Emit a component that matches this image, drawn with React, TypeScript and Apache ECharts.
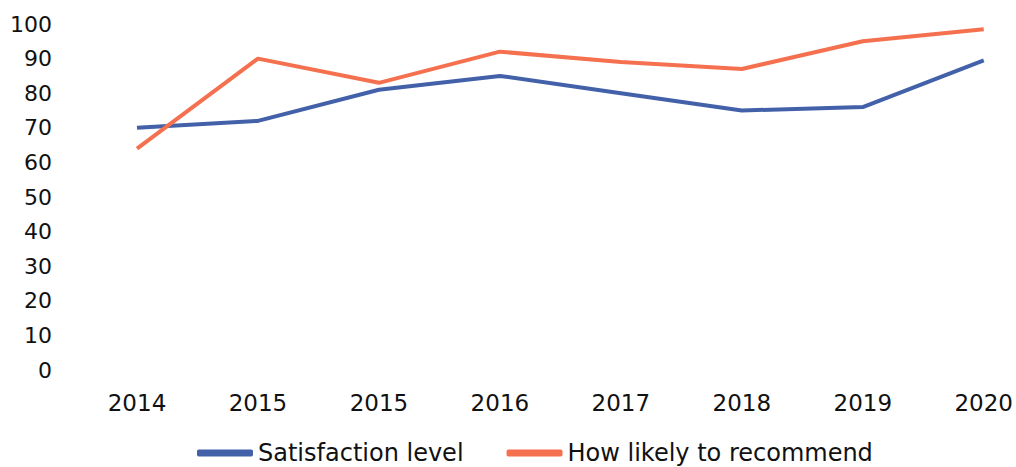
import React, { useEffect, useRef } from "react";
import * as echarts from "echarts";

const categories = ["2014", "2015", "2015", "2016", "2017", "2018", "2019", "2020"];
const satisfaction = [70, 72, 81, 85, 80, 75, 76, 89.5];
const recommend = [64, 90, 83, 92, 89, 87, 95, 98.5];
const seriesNames = ["Satisfaction level", "How likely to recommend"];
const colors = ["#4261a9", "#f5704f"];

export default function App() {
  const ref = useRef<HTMLDivElement>(null);
  useEffect(() => {
    const chart = echarts.init(ref.current!, null, { renderer: "svg" });
    const font = "'DejaVu Sans', Verdana, sans-serif";
    chart.setOption({
      animation: false,
      backgroundColor: "#ffffff",
      color: colors,
      grid: { left: 137, right: 32, top: 24, bottom: 97, containLabel: false },
      legend: {
        bottom: -3,
        left: 192,
        icon: "roundRect",
        itemWidth: 56,
        itemHeight: 7,
        itemGap: 43,
        textStyle: { fontFamily: font, fontSize: 24, color: "#111", padding: [0, 0, 0, 0] },
        data: seriesNames,
      },
      xAxis: {
        type: "category",
        data: categories,
        boundaryGap: false,
        axisLine: { show: false },
        axisTick: { show: false },
        axisLabel: { fontFamily: font, fontSize: 23, color: "#111", margin: 21 },
      },
      yAxis: {
        type: "value",
        min: 0,
        max: 100,
        interval: 10,
        splitLine: { show: false },
        axisLine: { show: false },
        axisTick: { show: false },
        axisLabel: { fontFamily: font, fontSize: 22, color: "#111", margin: 85 },
      },
      series: [
        {
          name: seriesNames[0],
          type: "line",
          data: satisfaction,
          symbol: "none",
          lineStyle: { width: 4, color: colors[0] },
        },
        {
          name: seriesNames[1],
          type: "line",
          data: recommend,
          symbol: "none",
          lineStyle: { width: 4, color: colors[1] },
        },
      ],
    });
    return () => chart.dispose();
  }, []);
  return <div ref={ref} style={{ width: 1016, height: 467, position: "absolute", left: 0, top: 0 }} />;
}
